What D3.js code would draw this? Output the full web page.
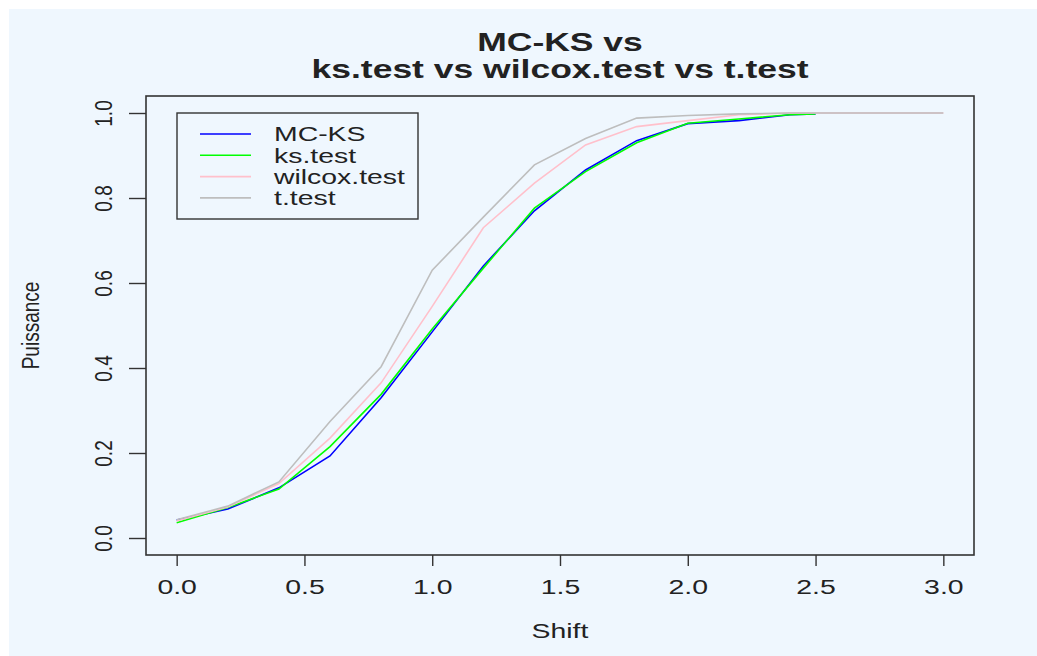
<!DOCTYPE html>
<html>
<head>
<meta charset="utf-8">
<script src="https://cdn.jsdelivr.net/npm/d3@7"></script>
<style>
  body { margin: 0; background: #fff; }
  text { font-family: "Liberation Sans", Arial, sans-serif; fill: #222; }
</style>
</head>
<body>
<div class="svg-wrapper"></div>
<script>
// power curves
var shiftKS = [0, 0.2, 0.4, 0.6, 0.8, 1.0, 1.2, 1.4, 1.6, 1.8, 2.0, 2.2, 2.4, 2.5];
var shiftAll = [0, 0.2, 0.4, 0.6, 0.8, 1.0, 1.2, 1.4, 1.6, 1.8, 2.0, 2.2, 2.4, 2.6, 2.8, 3.0];

var mcks   = [0.042, 0.068, 0.118, 0.193, 0.330, 0.485, 0.640, 0.770, 0.866, 0.935, 0.975, 0.982, 0.996, 0.998];
var kstest = [0.036, 0.072, 0.115, 0.215, 0.338, 0.492, 0.635, 0.776, 0.862, 0.930, 0.976, 0.986, 0.996, 0.998];
var wilcox = [0.040, 0.073, 0.128, 0.235, 0.365, 0.545, 0.730, 0.835, 0.925, 0.968, 0.982, 0.996, 1.0, 1.0, 1.0, 1.0];
var ttest  = [0.043, 0.075, 0.132, 0.274, 0.403, 0.630, 0.755, 0.878, 0.940, 0.988, 0.994, 0.998, 1.0, 1.0, 1.0, 1.0];

var seriesNames = ["MC-KS", "ks.test", "wilcox.test", "t.test"];
var seriesColors = ["#0000ff", "#00ff00", "#ffc0cb", "#bebebe"];

var xTicks = [0, 0.5, 1.0, 1.5, 2.0, 2.5, 3.0];
var yTicks = [0, 0.2, 0.4, 0.6, 0.8, 1.0];

var titleLines = ["MC-KS vs", "ks.test vs wilcox.test vs t.test"];
var xLabel = "Shift", yLabel = "Puissance";

var W = 1037, H = 656;
var stretch = 1.42; // the picture is widened horizontally

var series = [
  { name: seriesNames[0], x: shiftKS, y: mcks },
  { name: seriesNames[1], x: shiftKS, y: kstest },
  { name: seriesNames[2], x: shiftAll, y: wilcox },
  { name: seriesNames[3], x: shiftAll, y: ttest }
];

var box = { left: 146, right: 974, top: 96, bottom: 555 };

var svg = d3.select(".svg-wrapper").append("svg")
  .attr("width", W)
  .attr("height", H);

svg.append("rect")
  .attr("x", 9).attr("y", 9)
  .attr("width", W - 9).attr("height", H - 9)
  .attr("fill", "#eff7fe");

// R style: axis range = data range +/- 4%
var xScale = d3.scaleLinear().domain([-0.12, 3.12]).range([box.left, box.right]),
    yScale = d3.scaleLinear().domain([-0.04, 1.04]).range([box.bottom, box.top]);

var line = d3.line()
  .x(function(d) { return xScale(d[0]); })
  .y(function(d) { return yScale(d[1]); });

// lines
svg.append("g").selectAll("path")
  .data(series)
  .enter().append("path")
    .attr("fill", "none")
    .attr("stroke", function(d, i) { return seriesColors[i]; })
    .attr("stroke-width", 1.6)
    .attr("d", function(d) {
      return line(d.x.map(function(v, i) { return [v, d.y[i]]; }));
    });

// box
svg.append("rect")
  .attr("x", box.left).attr("y", box.top)
  .attr("width", box.right - box.left).attr("height", box.bottom - box.top)
  .attr("fill", "none")
  .attr("stroke", "#333")
  .attr("stroke-width", 1.6);

// x axis
var gx = svg.append("g")
  .attr("transform", "translate(0," + box.bottom + ")")
  .call(d3.axisBottom(xScale).tickValues(xTicks).tickFormat(d3.format(".1f")).tickSize(11).tickPadding(14));
gx.select(".domain").remove();
gx.selectAll("line").attr("stroke", "#333").attr("stroke-width", 1.4);
gx.selectAll("text")
  .attr("font-size", 20)
  .attr("fill", "#333")
  .attr("transform", "scale(" + stretch + ",1)");

// y axis, labels turned like R's las=0
var gy = svg.append("g")
  .attr("transform", "translate(" + box.left + ",0)")
  .call(d3.axisLeft(yScale).tickValues(yTicks).tickFormat(d3.format(".1f")).tickSize(17));
gy.select(".domain").remove();
gy.selectAll("line").attr("stroke", "#333").attr("stroke-width", 1.4);
gy.selectAll("text")
  .attr("x", 0).attr("dy", "0.35em")
  .attr("text-anchor", "middle")
  .attr("font-size", 19)
  .attr("fill", "#333")
  .attr("transform", "translate(-42,0) rotate(-90) scale(1,1.25)");

// axis titles
svg.append("text")
  .attr("transform", "translate(" + ((box.left + box.right) / 2) + ",638) scale(" + stretch + ",1)")
  .attr("text-anchor", "middle")
  .attr("font-size", 20)
  .attr("fill", "#333")
  .text(xLabel);

svg.append("text")
  .attr("transform", "translate(39," + ((box.top + box.bottom) / 2) + ") rotate(-90) scale(1,1.25)")
  .attr("text-anchor", "middle")
  .attr("font-size", 19)
  .attr("fill", "#333")
  .text(yLabel);

// title
svg.selectAll(".title")
  .data(titleLines)
  .enter().append("text")
    .attr("class", "title")
    .attr("transform", function(d, i) {
      return "translate(" + ((box.left + box.right) / 2) + "," + (51 + i * 27) + ") scale(" + stretch + ",1)";
    })
    .attr("text-anchor", "middle")
    .attr("font-size", 25)
    .attr("font-weight", "bold")
    .attr("fill", "#000")
    .text(function(d) { return d; });

// legend
var legend = svg.append("g").attr("class", "legend");
legend.append("rect")
  .attr("x", 177).attr("y", 113)
  .attr("width", 241).attr("height", 106)
  .attr("fill", "none")
  .attr("stroke", "#333")
  .attr("stroke-width", 1.4);

var item = legend.selectAll(".item")
  .data(seriesNames)
  .enter().append("g")
    .attr("class", "item")
    .attr("transform", function(d, i) { return "translate(200," + (134 + i * 21.3) + ")"; });

item.append("line")
  .attr("x1", 0).attr("x2", 51)
  .attr("stroke", function(d, i) { return seriesColors[i]; })
  .attr("stroke-width", 1.6);

item.append("text")
  .attr("transform", "translate(74,0) scale(" + stretch + ",1)")
  .attr("dy", "0.36em")
  .attr("font-size", 20)
  .attr("fill", "#222")
  .text(function(d) { return d; });
</script>
</body>
</html>
